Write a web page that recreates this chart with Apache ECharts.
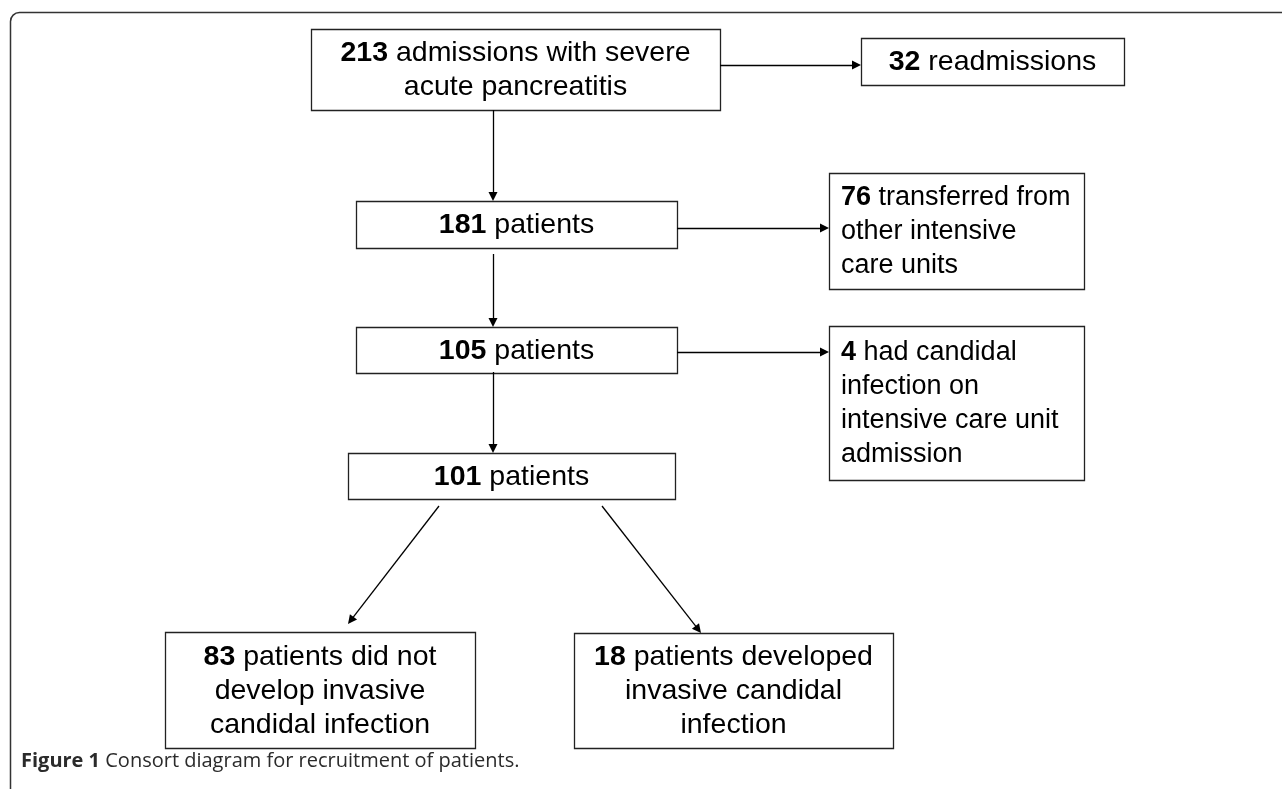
<!DOCTYPE html>
<html>
<head>
<meta charset="utf-8">
<script src="https://cdn.jsdelivr.net/npm/echarts@6/dist/echarts.min.js"></script>
<style>
  html, body { margin: 0; padding: 0; background: #fff; }
  #chart { width: 1282px; height: 789px; }
</style>
</head>
<body>
<div id="chart"></div>
<script>
// numbers shown in bold at the start of each box
var counts = [213, 32, 181, 76, 105, 4, 101, 83, 18];
// rest of the text in each box (one string per line)
var descriptions = [
    [' admissions with severe', 'acute pancreatitis'],
    [' readmissions'],
    [' patients'],
    [' transferred from', 'other intensive', 'care units'],
    [' patients'],
    [' had candidal', 'infection on', 'intensive care unit', 'admission'],
    [' patients'],
    [' patients did not', 'develop invasive', 'candidal infection'],
    [' patients developed', 'invasive candidal', 'infection']
];
var captionLabel = 'Figure 1';
var captionText = 'Consort diagram for recruitment of patients.';

// layout, in page pixels (axis units): left, top, right, bottom, text align
var boxLayout = [
    [311, 29, 720, 110, 'center'],
    [861, 38, 1124, 85, 'center'],
    [356, 201, 677, 248, 'center'],
    [829, 173, 1084, 289, 'left'],
    [356, 327, 677, 373, 'center'],
    [829, 326, 1084, 480, 'left'],
    [348, 453, 675, 499, 'center'],
    [165, 632, 475, 748, 'center'],
    [574, 633, 893, 748, 'center']
];
// arrows: start point, tip point
var arrowLayout = [
    [[720, 65], [861, 65]],
    [[493, 110], [493, 201]],
    [[677, 228], [829, 228]],
    [[493, 254], [493, 327]],
    [[677, 352], [829, 352]],
    [[493, 372], [493, 453]],
    [[439, 506], [348, 624]],
    [[602, 506], [701, 633]]
];

var FONT = '"Liberation Sans", Arial, sans-serif';
var ARROW = 9;

document.addEventListener('DOMContentLoaded', function () {
    var chart = echarts.init(document.getElementById('chart'));

    // pull each arrow end back by half the head so the tip lands on the box
    var arrowData = arrowLayout.map(function (a) {
        var s = a[0], e = a[1];
        var dx = e[0] - s[0], dy = e[1] - s[1];
        var len = Math.sqrt(dx * dx + dy * dy);
        var k = (len - ARROW / 2) / len;
        return { coords: [s, [s[0] + dx * k, s[1] + dy * k]] };
    });

    var boxData = counts.map(function (c, i) { return [i, c]; });

    var option = {
        animation: false,
        backgroundColor: '#fff',
        title: {
            text: '{b|' + captionLabel + '} ' + captionText,
            left: 21,
            top: 751,
            padding: 0,
            textStyle: {
                fontFamily: '"Open Sans", sans-serif',
                fontSize: 20,
                fontWeight: 'normal',
                color: '#2b2b2b',
                rich: {
                    b: {
                        fontFamily: '"Open Sans", sans-serif',
                        fontSize: 20,
                        fontWeight: 'bold',
                        color: '#2b2b2b'
                    }
                }
            }
        },
        grid: { left: 0, right: 0, top: 0, bottom: 0 },
        xAxis: { type: 'value', min: 0, max: 1282, show: false },
        yAxis: { type: 'value', min: 0, max: 789, inverse: true, show: false },
        graphic: [{
            type: 'rect',
            shape: { x: 10.5, y: 12.5, width: 1400, height: 900, r: 9 },
            style: { fill: 'none', stroke: '#333', lineWidth: 1.5 },
            silent: true
        }],
        series: [{
            type: 'custom',
            silent: true,
            data: boxData,
            renderItem: function (params, api) {
                var i = api.value(0);
                var b = boxLayout[i];
                var p1 = api.coord([b[0], b[1]]);
                var p2 = api.coord([b[2], b[3]]);
                var lines = descriptions[i].slice();
                lines[0] = '{b|' + counts[i] + '}' + lines[0];
                var left = b[4] === 'left';
                // the left-aligned side boxes use a slightly smaller type
                var size = left ? 27 : 28.5;
                return {
                    type: 'group',
                    children: [{
                        type: 'rect',
                        shape: {
                            x: Math.round(p1[0]) + 0.5,
                            y: Math.round(p1[1]) + 0.5,
                            width: Math.round(p2[0] - p1[0]),
                            height: Math.round(p2[1] - p1[1])
                        },
                        style: { fill: '#fff', stroke: '#222', lineWidth: 1.3 }
                    }, {
                        type: 'text',
                        style: {
                            x: left ? p1[0] + 12 : (p1[0] + p2[0]) / 2,
                            y: (p1[1] + p2[1]) / 2 + 1,
                            text: lines.join('\n'),
                            align: left ? 'left' : 'center',
                            verticalAlign: 'middle',
                            fontFamily: FONT,
                            fontSize: size,
                            lineHeight: 34,
                            fill: '#000',
                            rich: {
                                b: {
                                    fontFamily: FONT,
                                    fontSize: size,
                                    fontWeight: 'bold',
                                    lineHeight: 34,
                                    fill: '#000'
                                }
                            }
                        }
                    }]
                };
            }
        }, {
            type: 'lines',
            coordinateSystem: 'cartesian2d',
            silent: true,
            data: arrowData,
            symbol: ['none', 'triangle'],
            symbolSize: ARROW,
            lineStyle: { color: '#000', width: 1.3, opacity: 1, curveness: 0 }
        }]
    };

    chart.setOption(option);
    window.addEventListener('resize', function () { chart.resize(); });
});
</script>
</body>
</html>
